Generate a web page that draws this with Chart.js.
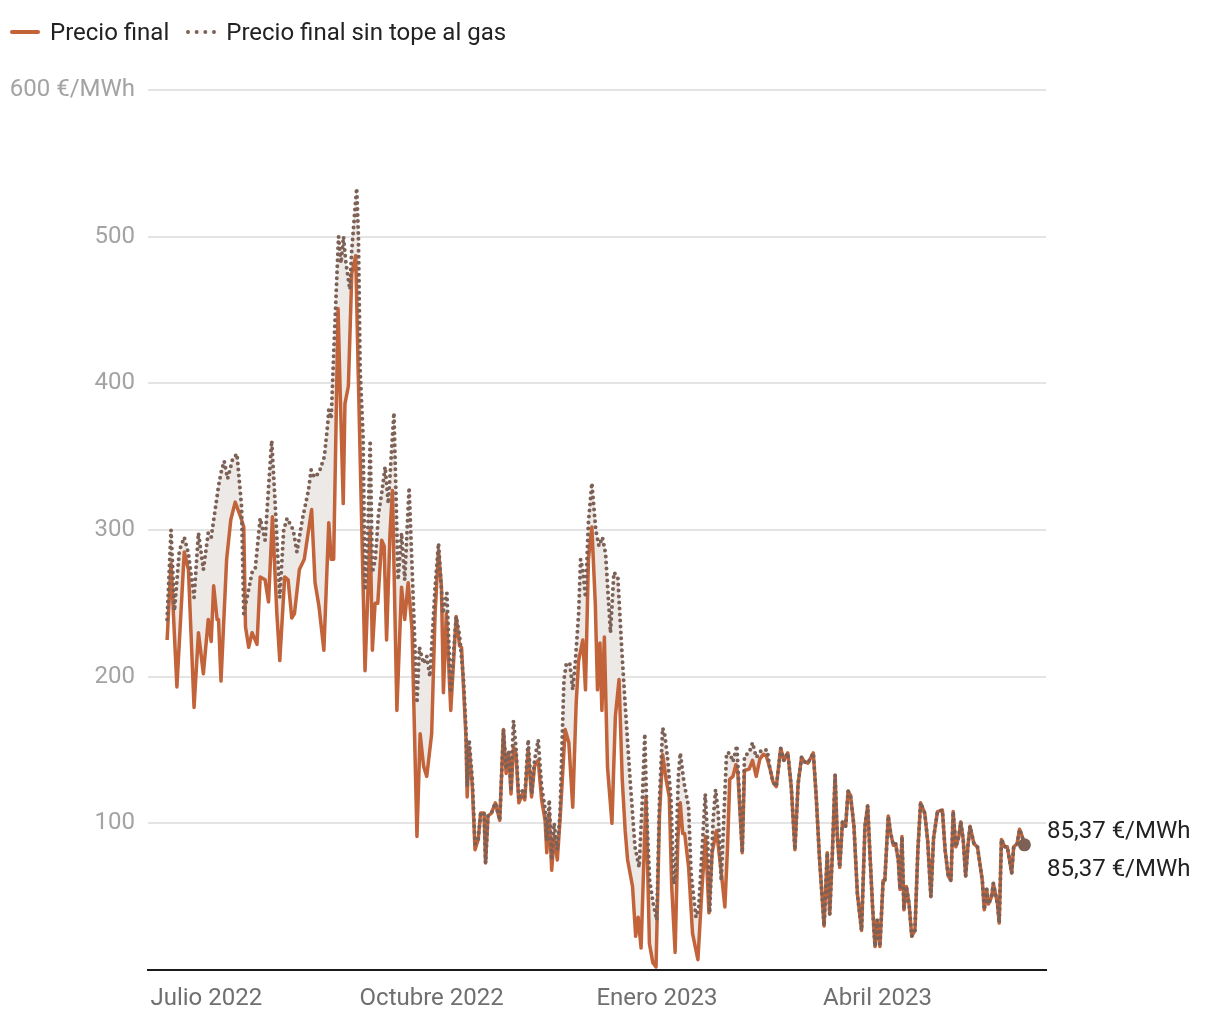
<!DOCTYPE html>
<html lang="es">
<head>
<meta charset="utf-8">
<script src="https://cdn.jsdelivr.net/npm/chart.js@4.4.1/dist/chart.umd.min.js"></script>
<style>
  html, body { margin: 0; padding: 0; background: #fff; }
  body { width: 1220px; height: 1020px; position: relative; overflow: hidden; font-family: Roboto, sans-serif; }
  #legend { position: absolute; left: 10px; top: 17px; display: flex; align-items: center; font-size: 24px; line-height: 30px; color: #222; z-index: 2; }
  #legend .item { display: flex; align-items: center; margin-right: 17px; }
  .key { display: inline-block; width: 30px; margin-right: 10px; }
  .key.solid { border-top: 4px solid #c2633a; border-radius: 2px; }
  .key.dots { border-top: 4px dotted #7d6156; }
  #wrap { position: absolute; left: 0; top: 0; width: 1220px; height: 1020px; }
</style>
</head>
<body>
<div id="legend">
  <span class="item"><span class="key solid"></span>Precio final</span>
  <span class="item"><span class="key dots"></span>Precio final sin tope al gas</span>
</div>
<div id="wrap"><canvas id="chart"></canvas></div>
<script>
// days counted from 15 June 2022 (day 0), values in €/MWh
const finalDays = [
  0, 1.6, 4, 7, 8.7, 11, 12.8, 14.8, 16.8, 18, 19, 20.4, 21, 22, 24.3, 26, 27.8, 30, 31.3, 32,
  33.3, 34.7, 36.7, 38, 40, 41.4, 43, 44.8, 46, 48, 49.4, 50.9, 52, 54, 56, 59, 60.4, 62, 64, 66,
  67, 68, 69.8, 70.5, 71.9, 72.6, 74, 75.4, 77, 78, 80.8, 82.9, 83.8, 84.9, 86, 87.6, 88.6, 89.6, 91, 92,
  93.8, 95.7, 97, 98.4, 100, 102, 103.3, 104.7, 106, 108, 109.4, 110.8, 112, 112.8, 114, 115.8, 118, 119.4, 120.2, 121,
  122, 122.5, 123.3, 124.6, 125.7, 127, 128, 129.4, 130, 131, 132.4, 134, 135.8, 137.3, 138.4, 139.5, 140.4, 141.4, 142.4, 143.6,
  145, 146, 147.4, 148.8, 150, 151.5, 152.9, 154.3, 155, 156, 157, 158, 159.3, 160.4, 162.5, 164, 165.6, 167, 168, 169.7,
  170.8, 172, 173.4, 174.8, 175.7, 176.7, 177.5, 178.5, 179.8, 181.6, 183, 184.5, 185.8, 187, 188, 190, 191.3, 192.3, 193.5, 194.6,
  195.5, 196.9, 198.3, 199.6, 201, 202.3, 203.7, 205, 206, 207.4, 208.5, 209.5, 210.5, 211.3, 212.9, 214.5, 216.7, 218.4, 219.8, 221.2,
  222.5, 224.3, 226, 227.7, 228.8, 229.7, 231, 232.2, 233, 234.8, 235.7, 237.6, 239, 240.5, 242, 243.4, 244.6, 246, 247.4, 248.7,
  250.5, 251.8, 253.4, 254.8, 256.3, 257.6, 259, 260.2, 261.6, 263.8, 265, 266.3, 268.2, 269.5, 270.5, 271.6, 272.7, 273.6, 274.6, 275.7,
  277, 278, 279, 280.4, 281.8, 283.5, 284.9, 286, 286.9, 288, 289, 289.9, 291, 292.3, 293, 294.4, 295.4, 296.5, 297.4, 298.5,
  299.2, 300, 300.8, 301.8, 302.9, 304, 305.3, 306.5, 307.6, 309.3, 310.5, 311.8, 312.9, 314.5, 316.5, 317.6, 318.9, 320, 320.9, 322,
  323.2, 324, 325, 326, 327, 327.8, 329.4, 330.8, 331.6, 332.8, 333.6, 334.6, 335.3, 336.6, 337.3, 339, 339.7, 340.6, 342, 343,
  344.8, 345.6, 347, 348, 348.9, 350
];
const finalValues = [
  225, 277, 193, 285, 273, 179, 230, 202, 239, 224, 262, 239, 239, 197, 280, 307, 319, 309, 302, 234,
  220, 230, 222, 268, 266, 251, 309, 243, 211, 268, 266, 240, 243, 273, 280, 314, 264, 248, 218, 305,
  280, 280, 451, 404, 318, 386, 398, 475, 487, 409, 204, 300, 218, 250, 250, 293, 289, 225, 298, 327,
  177, 261, 239, 264, 232, 91, 161, 139, 132, 161, 243, 286, 261, 189, 243, 177, 241, 221, 220, 193,
  159, 118, 152, 125, 82, 89, 107, 107, 73, 105, 107, 114, 102, 164, 134, 148, 120, 152, 148, 114,
  120, 116, 150, 118, 139, 143, 116, 102, 80, 107, 68, 91, 75, 102, 164, 155, 111, 182, 211, 225,
  191, 280, 302, 250, 191, 223, 177, 227, 138, 100, 173, 198, 130, 95, 75, 57, 23, 36, 15, 73,
  118, 18, 5, 2, 105, 147, 130, 118, 57, 12, 89, 114, 93, 93, 70, 25, 7, 57, 91, 39,
  80, 95, 70, 43, 84, 130, 132, 140, 134, 80, 136, 137, 143, 132, 144, 147, 146, 138, 128, 125,
  151, 143, 148, 125, 82, 127, 145, 142, 141, 148, 118, 77, 30, 80, 38, 80, 133, 91, 70, 101,
  98, 122, 119, 98, 52, 27, 98, 112, 80, 43, 16, 34, 16, 61, 61, 105, 93, 85, 86, 75,
  55, 91, 41, 57, 45, 23, 27, 82, 114, 107, 88, 50, 90, 108, 109, 82, 64, 61, 108, 84,
  91, 101, 89, 64, 86, 98, 86, 84, 75, 61, 41, 55, 45, 50, 59, 45, 32, 89, 84, 84,
  66, 84, 86, 96, 92, 85.37
];
// without the gas cap; from day 246 on it runs on top of the final price
const sinTopeDays = [
  0, 1.6, 3, 5, 7, 8.7, 11, 12.8, 14.8, 16.8, 18, 21, 22, 23.3, 24.7, 26.7, 28.5, 30.4, 31.3, 33,
  34.7, 36, 38, 40, 42.7, 44.3, 46, 47.6, 49, 51.5, 53, 55.3, 57.7, 58.8, 60.1, 62, 64.2, 65.6, 66, 67,
  68, 69.3, 70, 71, 72, 73, 74.6, 75.3, 76.9, 77.4, 78.1, 78.8, 80, 80.8, 81.9, 82.9, 83.8, 85, 86.3, 87.6,
  89, 90.3, 92.6, 94.3, 95.7, 97, 98.8, 100.5, 102, 103, 104.7, 106, 107.3, 109.4, 110.8, 112.6, 114.2, 115.8, 118, 119.4,
  121, 122, 122.5, 123.3, 124.6, 125.7, 127, 128, 129.4, 130, 131, 132.4, 134, 135.8, 137.3, 138.4, 139.5, 140.4, 141.4, 142.4,
  143.6, 145, 146, 147.4, 148.8, 150, 151.5, 152.9, 154.3, 155, 156, 157, 158, 159.3, 160.4, 162, 163, 164.4, 165.6, 166.6,
  168, 168.8, 169.7, 170.8, 172, 173.4, 175, 176.3, 177.7, 179, 181, 182.4, 184, 185.7, 187, 189, 191, 192.7, 194, 195,
  196, 197, 198.5, 199.9, 201, 202.3, 203.2, 204.4, 205.7, 206.8, 207.5, 208.7, 209.5, 211, 212.9, 213.9, 215.9, 217, 219.7, 220.7,
  221.5, 222.9, 223.9, 225, 226.2, 228.4, 229.7, 231, 232.6, 234.8, 235.7, 237.6, 239, 240.5, 242.7, 245
];
const sinTopeValues = [
  239, 300, 245, 286, 295, 284, 254, 298, 273, 298, 295, 330, 339, 347, 335, 348, 352, 316, 243, 257,
  271, 274, 308, 293, 361, 312, 254, 300, 308, 300, 285, 308, 327, 341, 336, 339, 350, 373, 382, 376,
  420, 473, 500, 482, 500, 482, 464, 489, 523, 533, 500, 409, 364, 259, 295, 361, 271, 280, 311, 325,
  343, 318, 380, 266, 298, 266, 329, 252, 182, 220, 209, 214, 200, 261, 291, 243, 257, 189, 241, 228,
  198, 165, 125, 157, 130, 86, 89, 107, 107, 73, 105, 107, 114, 102, 164, 137, 150, 122, 170, 152,
  116, 122, 118, 157, 120, 143, 157, 125, 110, 88, 116, 75, 100, 82, 107, 198, 209, 209, 191, 209,
  243, 280, 273, 254, 305, 332, 300, 289, 295, 284, 230, 271, 268, 216, 181, 130, 84, 70, 116, 161,
  98, 61, 45, 34, 116, 165, 160, 143, 116, 59, 62, 132, 148, 128, 111, 66, 36, 42, 120, 88,
  39, 102, 123, 107, 61, 148, 148, 142, 153, 80, 146, 148, 155, 145, 150, 150
];
const xTicks = [16, 108, 200, 290];
const xTickLabels = ['Julio 2022', 'Octubre 2022', 'Enero 2023', 'Abril 2023'];
const yTicks = [100, 200, 300, 400, 500, 600];
const unit = '€/MWh';

const ORANGE = '#c2633a';
const BROWN = '#7d6156';

const finalPts = finalDays.map((d, i) => ({ x: d, y: finalValues[i] }));
const lastOwnDay = sinTopeDays[sinTopeDays.length - 1];
const sinTopePts = sinTopeDays.map((d, i) => ({ x: d, y: sinTopeValues[i] }))
  .concat(finalPts.filter(p => p.x > lastOwnDay));

const fmt = (v) => v.toFixed(2).replace('.', ',') + ' ' + unit;

// end labels to the right of the plot
const endLabels = {
  id: 'endLabels',
  afterDatasetsDraw(chart) {
    const { ctx, chartArea, scales } = chart;
    const lastFinal = finalPts[finalPts.length - 1].y;
    const lastSin = sinTopePts[sinTopePts.length - 1].y;
    const py = scales.y.getPixelForValue(lastFinal);
    ctx.save();
    ctx.font = '24px Roboto';
    ctx.fillStyle = '#222';
    ctx.textAlign = 'left';
    ctx.textBaseline = 'middle';
    ctx.fillText(fmt(lastFinal), chartArea.right + 1, py - 13);
    ctx.fillText(fmt(lastSin), chartArea.right + 1, py + 25);
    ctx.restore();
  }
};

new Chart(document.getElementById('chart'), {
  type: 'line',
  data: {
    datasets: [{
      label: 'Precio final',
      data: finalPts,
      borderColor: ORANGE,
      borderWidth: 3.5,
      borderJoinStyle: 'round',
      pointRadius: 0,
      fill: false,
      order: 2,
    }, {
      label: 'Precio final sin tope al gas',
      data: sinTopePts,
      borderColor: BROWN,
      borderWidth: 4,
      borderDash: [0, 6],
      borderCapStyle: 'round',
      backgroundColor: '#ece9e6',
      fill: '-1',
      pointRadius: (c) => c.dataIndex === sinTopePts.length - 1 ? 6.5 : 0,
      pointBackgroundColor: BROWN,
      pointBorderWidth: 0,
      order: 1,
    }],
  },
  options: {
    responsive: true,
    maintainAspectRatio: false,
    animation: false,
    layout: {
      padding: { top: 90, right: 174, bottom: 0, left: 0 },
    },
    scales: {
      x: {
        type: 'linear',
        min: -7.8,
        max: 358.8,
        afterBuildTicks: (s) => { s.ticks = xTicks.map(v => ({ value: v })); },
        afterFit: (s) => { s.height = 50; },
        ticks: {
          autoSkip: false,
          maxRotation: 0,
          padding: 7,
          color: '#6f6f6f',
          font: { family: 'Roboto', size: 24 },
          callback: (v) => xTickLabels[xTicks.indexOf(v)] ?? '',
        },
        grid: { display: false },
        border: { display: true, color: '#1a1a1a', width: 2 },
      },
      y: {
        min: 0,
        max: 600,
        afterBuildTicks: (s) => { s.ticks = yTicks.map(v => ({ value: v })); },
        afterFit: (s) => { s.width = 148; },
        ticks: {
          padding: 13,
          color: '#a3a3a3',
          font: { family: 'Roboto', size: 24 },
          callback: (v) => v === 600 ? '600 ' + unit : String(v),
        },
        grid: { color: '#e4e4e4', lineWidth: 2, drawTicks: false },
        border: { display: false },
      },
    },
    plugins: {
      legend: { display: false },
      tooltip: { enabled: false },
      filler: { drawTime: 'beforeDatasetsDraw' },
    },
  },
  plugins: [endLabels],
});
</script>
</body>
</html>
